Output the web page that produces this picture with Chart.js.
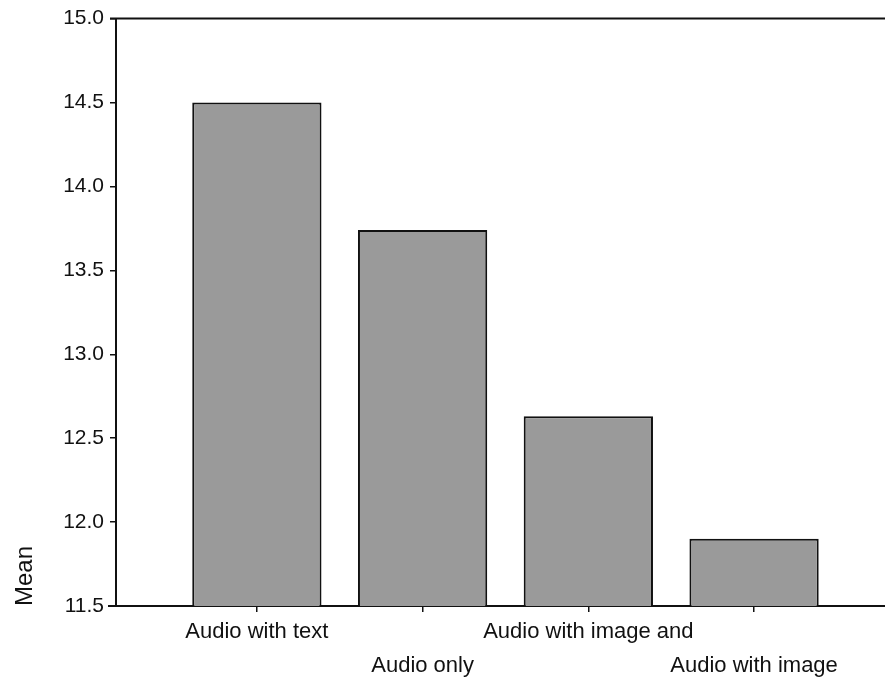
<!DOCTYPE html>
<html lang="en">
<head>
  <meta charset="UTF-8" />
  <title>Mean by condition</title>
  <script src="https://cdn.jsdelivr.net/npm/chart.js"></script>
  <style>
    body { margin: 0; background: #fff; }
    #wrap { width: 885px; height: 680px; }
  </style>
</head>
<body>
  <div id="wrap"><canvas id="grafico"></canvas></div>
  <script>
    const categorias = ["Audio with text", "Audio only", "Audio with image and", "Audio with image"];
    const medias = [14.5, 13.74, 12.63, 11.9];
    const ticksY = [11.5, 12.0, 12.5, 13.0, 13.5, 14.0, 14.5, 15.0];

    // staggered labels: odd ones on the first row, even ones on the second
    const etiquetas = categorias.map((c, i) => i % 2 === 0 ? [c, ""] : ["", c]);

    const fuente = "Liberation Sans, Arial, sans-serif";

    const lineasExtra = {
      id: "lineasExtra",
      afterDraw(chart) {
        const { ctx, chartArea } = chart;
        ctx.save();
        ctx.strokeStyle = "#111";
        ctx.lineWidth = 2;
        ctx.beginPath();
        ctx.moveTo(chartArea.left - 6, chartArea.top);
        ctx.lineTo(chartArea.right, chartArea.top);
        ctx.moveTo(chartArea.left - 8, chartArea.bottom);
        ctx.lineTo(chartArea.left, chartArea.bottom);
        ctx.stroke();
        ctx.restore();
      }
    };

    new Chart(document.getElementById("grafico"), {
      type: "bar",
      data: {
        datasets: [{
          data: medias.map((v, i) => ({ x: i, y: v })),
          backgroundColor: "#9a9a9a",
          borderColor: "#111",
          borderWidth: 2,
          barPercentage: 1,
          categoryPercentage: 0.78
        }]
      },
      plugins: [lineasExtra],
      options: {
        responsive: true,
        maintainAspectRatio: false,
        animation: false,
        layout: { padding: { top: 16, right: 0, left: 0, bottom: 0 } },
        plugins: { legend: { display: false }, tooltip: { enabled: false } },
        scales: {
          x: {
            type: "linear",
            offset: false,
            min: -0.85,
            max: 3.79,
            afterBuildTicks: s => { s.ticks = categorias.map((c, i) => ({ value: i })); },
            afterFit: s => { s.height = 74; },
            grid: { display: true, offset: false, drawOnChartArea: false, drawTicks: true, tickLength: 6, color: "#111", lineWidth: 1.5 },
            border: { display: true, color: "#111", width: 2 },
            ticks: {
              color: "#111",
              font: { family: fuente, size: 22, lineHeight: 1.55 },
              padding: 3,
              maxRotation: 0,
              autoSkip: false,
              callback: v => etiquetas[v]
            }
          },
          y: {
            min: 11.5,
            max: 15,
            afterBuildTicks: s => { s.ticks = ticksY.map(v => ({ value: v })); },
            afterFit: s => { s.width = 116; },
            grid: { display: true, drawOnChartArea: false, drawTicks: true, tickLength: 6, color: "#111", lineWidth: 1.5 },
            border: { display: true, color: "#111", width: 2 },
            title: {
              display: true,
              text: "Mean",
              align: "start",
              color: "#111",
              font: { family: fuente, size: 24 },
              padding: { top: 11, bottom: 0 }
            },
            ticks: {
              color: "#111",
              font: { family: fuente, size: 21 },
              padding: 6,
              callback: v => v.toFixed(1)
            }
          }
        }
      }
    });
  </script>
</body>
</html>
